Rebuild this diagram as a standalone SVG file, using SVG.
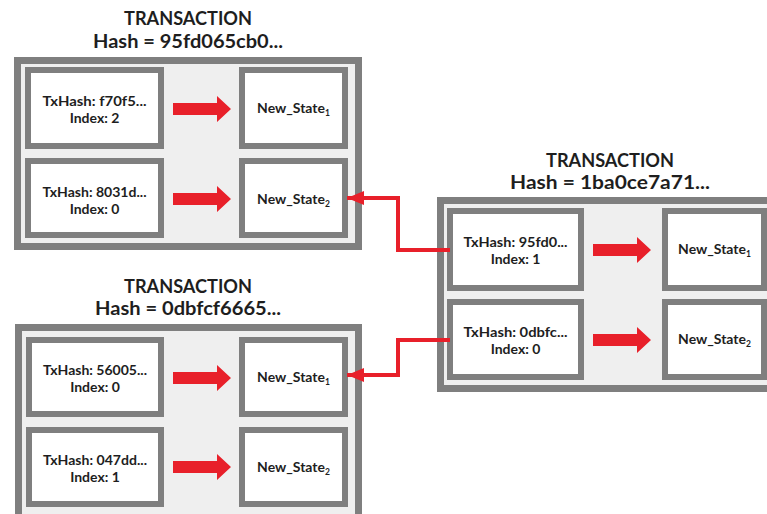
<svg xmlns="http://www.w3.org/2000/svg" width="767" height="514" viewBox="0 0 767 514">
  <defs>
    <style>
      .outer { fill: #efefef; stroke: #7f7f7f; stroke-width: 7; }
      .box { fill: #ffffff; stroke: #7f7f7f; stroke-width: 6; }
      .title { font-family: Lato, "Liberation Sans", sans-serif; font-weight: bold; font-size: 19px; fill: #1e1e1e; text-anchor: middle; }
      .lbl { font-family: Lato, "Liberation Sans", sans-serif; font-weight: bold; font-size: 14px; fill: #1e1e1e; text-anchor: middle; }
      .sub { font-size: 8.5px; }
      .fat { fill: #e8202a; }
      .conn { fill: none; stroke: #e8202a; stroke-width: 4; }
    </style>
    <path id="fatArrow" d="M0,-6 H44 V-13 L58,0 L44,13 V6 H0 Z"/>
    <marker id="head" markerUnits="userSpaceOnUse" markerWidth="18" markerHeight="14" refX="17" refY="7" orient="auto">
      <path d="M0,0 L17,7 L0,14 Z" fill="#e8202a"/>
    </marker>
  </defs>

  <g id="tx1">
    <text class="title" x="188" y="25" textLength="128" lengthAdjust="spacingAndGlyphs">TRANSACTION</text>
    <text class="title" x="188" y="48" textLength="190" lengthAdjust="spacingAndGlyphs">Hash = 95fd065cb0...</text>
    <rect class="outer" x="17.5" y="60.5" width="341" height="186"/>
    <g id="tx1-in1">
      <rect class="box" x="28" y="70" width="133" height="76"/>
      <text class="lbl" x="94.5" y="106" textLength="104" lengthAdjust="spacingAndGlyphs">TxHash: f70f5...</text>
      <text class="lbl" x="94.5" y="123">Index: 2</text>
    </g>
    <g id="tx1-out1">
      <rect class="box" x="242" y="70" width="103" height="76"/>
      <text class="lbl" x="293.5" y="113">New_State<tspan class="sub" dy="3">1</tspan></text>
    </g>
    <g id="tx1-in2">
      <rect class="box" x="28" y="161" width="133" height="74"/>
      <text class="lbl" x="94.5" y="197" textLength="104" lengthAdjust="spacingAndGlyphs">TxHash: 8031d...</text>
      <text class="lbl" x="94.5" y="214">Index: 0</text>
    </g>
    <g id="tx1-out2">
      <rect class="box" x="242" y="161" width="103" height="74"/>
      <text class="lbl" x="293.5" y="204">New_State<tspan class="sub" dy="3">2</tspan></text>
    </g>
    <use href="#fatArrow" class="fat" x="173" y="109"/>
    <use href="#fatArrow" class="fat" x="173" y="199"/>
  </g>

  <g id="tx2">
    <text class="title" x="610" y="167" textLength="128" lengthAdjust="spacingAndGlyphs">TRANSACTION</text>
    <text class="title" x="610" y="189" textLength="200" lengthAdjust="spacingAndGlyphs">Hash = 1ba0ce7a71...</text>
    <rect class="outer" x="440.5" y="200.5" width="340" height="188"/>
    <g id="tx2-in1">
      <rect class="box" x="450" y="211" width="131" height="77"/>
      <text class="lbl" x="515.5" y="247" textLength="104" lengthAdjust="spacingAndGlyphs">TxHash: 95fd0...</text>
      <text class="lbl" x="515.5" y="264">Index: 1</text>
    </g>
    <g id="tx2-out1">
      <rect class="box" x="665" y="211" width="99" height="77"/>
      <text class="lbl" x="714.5" y="254">New_State<tspan class="sub" dy="3">1</tspan></text>
    </g>
    <g id="tx2-in2">
      <rect class="box" x="450" y="302" width="131" height="75"/>
      <text class="lbl" x="515.5" y="337" textLength="104" lengthAdjust="spacingAndGlyphs">TxHash: 0dbfc...</text>
      <text class="lbl" x="515.5" y="354">Index: 0</text>
    </g>
    <g id="tx2-out2">
      <rect class="box" x="665" y="302" width="99" height="75"/>
      <text class="lbl" x="714.5" y="344">New_State<tspan class="sub" dy="3">2</tspan></text>
    </g>
    <use href="#fatArrow" class="fat" x="593" y="250"/>
    <use href="#fatArrow" class="fat" x="593" y="340"/>
  </g>

  <g id="tx3">
    <text class="title" x="188" y="293" textLength="128" lengthAdjust="spacingAndGlyphs">TRANSACTION</text>
    <text class="title" x="188" y="315" textLength="186" lengthAdjust="spacingAndGlyphs">Hash = 0dbfcf6665...</text>
    <rect class="outer" x="18.5" y="327.5" width="340" height="192"/>
    <g id="tx3-in1">
      <rect class="box" x="29" y="340" width="132" height="74"/>
      <text class="lbl" x="95" y="375" textLength="104" lengthAdjust="spacingAndGlyphs">TxHash: 56005...</text>
      <text class="lbl" x="95" y="392">Index: 0</text>
    </g>
    <g id="tx3-out1">
      <rect class="box" x="242" y="340" width="103" height="74"/>
      <text class="lbl" x="293.5" y="382">New_State<tspan class="sub" dy="3">1</tspan></text>
    </g>
    <g id="tx3-in2">
      <rect class="box" x="29" y="430" width="132" height="74"/>
      <text class="lbl" x="95" y="465" textLength="104" lengthAdjust="spacingAndGlyphs">TxHash: 047dd...</text>
      <text class="lbl" x="95" y="482">Index: 1</text>
    </g>
    <g id="tx3-out2">
      <rect class="box" x="242" y="430" width="103" height="74"/>
      <text class="lbl" x="293.5" y="472">New_State<tspan class="sub" dy="3">2</tspan></text>
    </g>
    <use href="#fatArrow" class="fat" x="173" y="378"/>
    <use href="#fatArrow" class="fat" x="173" y="467"/>
  </g>

  <g id="connectors">
    <path class="conn" d="M450,250 H398 V198 H347" marker-end="url(#head)"/>
    <path class="conn" d="M450,340 H398 V375 H347" marker-end="url(#head)"/>
  </g>
</svg>
